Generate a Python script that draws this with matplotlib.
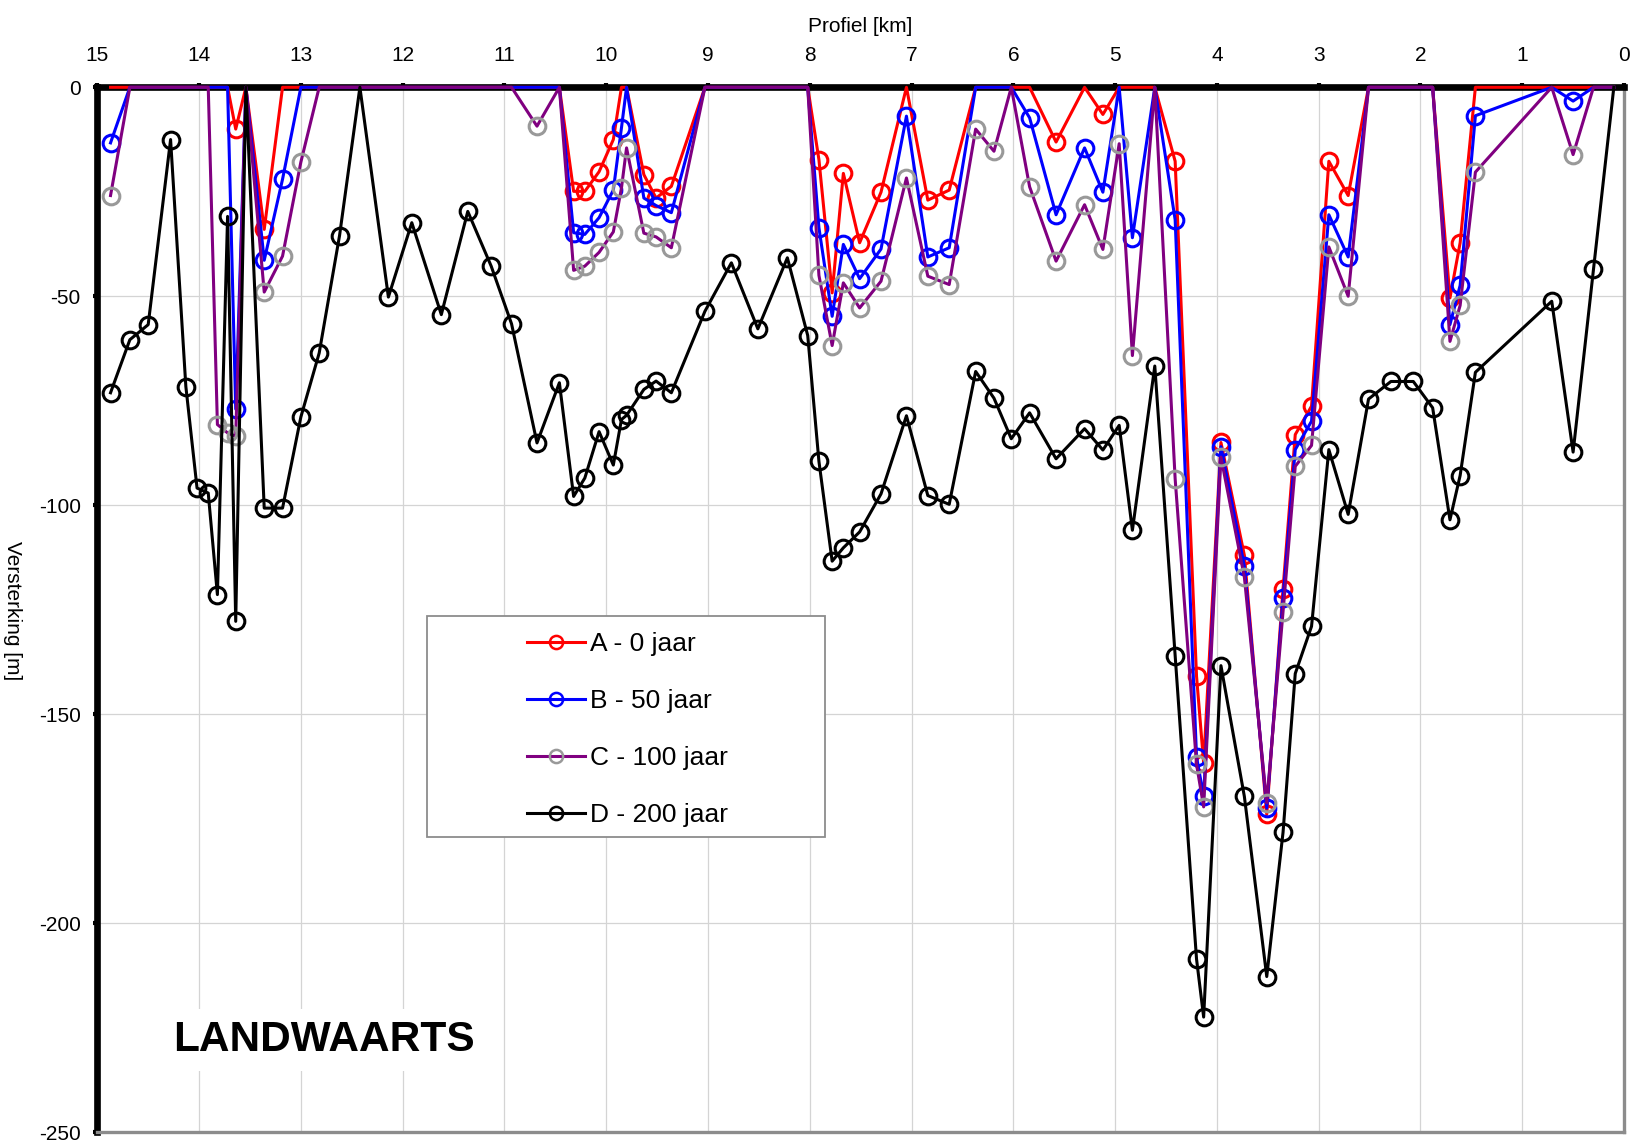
import matplotlib
matplotlib.use("Agg")
import matplotlib.pyplot as plt
from matplotlib.lines import Line2D
from matplotlib.patches import Rectangle

plt.rcParams["font.family"] = ["Liberation Sans", "DejaVu Sans"]
plt.rcParams["axes.unicode_minus"] = False

# Profile positions [km]
profiel_km = [14.87, 14.68, 14.50, 14.28, 14.13, 14.02, 13.91, 13.82, 13.72, 13.64,
              13.54, 13.36, 13.18, 13.00, 12.82, 12.62, 12.42, 12.14, 11.91, 11.62,
              11.36, 11.13, 10.93, 10.68, 10.46, 10.32, 10.21, 10.07, 9.93, 9.85,
              9.80, 9.63, 9.51, 9.36, 9.03, 8.77, 8.51, 8.22, 8.02, 7.91,
              7.78, 7.67, 7.51, 7.30, 7.05, 6.84, 6.63, 6.37, 6.19, 6.02,
              5.84, 5.58, 5.30, 5.12, 4.96, 4.83, 4.61, 4.41, 4.20, 4.13,
              3.96, 3.73, 3.51, 3.35, 3.23, 3.07, 2.90, 2.71, 2.51, 2.29,
              2.07, 1.88, 1.71, 1.61, 1.46, 0.71, 0.50, 0.30, 0.10]

# Versterking [m] per scenario
a_0_jaar = [0, 0, 0, 0, 0, 0, 0, 0, 0, -10.0,
            0, -34.0, 0, 0, 0, 0, 0, 0, 0, 0,
            0, 0, 0, 0, 0, -24.9, -24.9, -20.2, -12.5, 0,
            0, -20.9, -26.5, -23.7, 0, 0, 0, 0, 0, -17.3,
            -49.2, -20.6, -37.2, -25.1, 0, -27.0, -24.6, 0, 0, 0,
            0, -13.1, 0, -6.5, 0, 0, 0, -17.7, -140.9, -161.7,
            -85.0, -112.0, -174.0, -120.0, -83.1, -76.3, -17.7, -25.9, 0, 0,
            0, 0, -50.4, -37.2, 0, 0, 0, 0, 0]

b_50_jaar = [-13.3, 0, 0, 0, 0, 0, 0, 0, 0, -77.0,
             0, -41.4, -22.0, 0, 0, 0, 0, 0, 0, 0,
             0, 0, 0, 0, 0, -34.8, -35.2, -31.2, -24.6, -9.7,
             0, -26.5, -28.3, -30.0, 0, 0, 0, 0, 0, -33.6,
             -54.8, -37.6, -45.8, -38.7, -6.9, -40.6, -38.4, 0, 0, 0,
             -7.3, -30.5, -14.5, -25.1, 0, -36.0, 0, -31.7, -160.2, -169.7,
             -86.0, -114.6, -172.5, -122.2, -86.7, -79.9, -30.5, -40.6, 0, 0,
             0, 0, -56.8, -47.4, -6.8, 0, -3.3, 0, 0]

c_100_jaar = [-25.9, 0, 0, 0, 0, 0, 0, -80.7, -82.7, -83.5,
              0, -49.0, -40.4, -17.9, 0, 0, 0, 0, 0, 0,
              0, 0, 0, -9.3, 0, -43.8, -42.8, -39.5, -34.6, -24.1,
              -14.5, -34.9, -35.8, -38.4, 0, 0, 0, 0, 0, -45.0,
              -61.8, -46.8, -52.8, -46.4, -21.7, -45.2, -47.2, -10.0, -15.3, 0,
              -23.8, -41.6, -28.1, -38.8, -13.5, -64.2, 0, -93.7, -162.0, -172.2,
              -88.5, -117.2, -171.2, -125.5, -90.7, -85.7, -38.2, -50.0, 0, 0,
              0, 0, -60.8, -52.2, -20.3, 0, -16.1, 0, 0]

d_200_jaar = [-73.1, -60.4, -56.8, -12.5, -71.6, -95.9, -97.1, -121.4, -30.9, -127.8,
              0, -100.7, -100.7, -78.9, -63.6, -35.5, 0, -50.2, -32.4, -54.4,
              -29.7, -42.8, -56.6, -85.1, -70.7, -97.9, -93.5, -82.4, -90.4, -79.5,
              -78.5, -72.3, -70.3, -73.1, -53.6, -42.0, -57.8, -40.8, -59.4, -89.5,
              -113.4, -110.2, -106.4, -97.3, -78.6, -97.7, -99.8, -68.0, -74.4, -84.1,
              -77.9, -88.9, -81.7, -86.8, -80.9, -106.0, -66.7, -136.0, -208.6, -222.5,
              -138.4, -169.7, -212.8, -178.3, -140.3, -129.0, -86.7, -102.2, -74.6, -70.4,
              -70.4, -76.7, -103.5, -92.9, -68.2, -51.2, -87.3, -43.6, 0]

series = [
    ("A - 0 jaar", a_0_jaar, "#ff0000", "#ff0000"),
    ("B - 50 jaar", b_50_jaar, "#0000ff", "#0000ff"),
    ("C - 100 jaar", c_100_jaar, "#800080", "#999999"),
    ("D - 200 jaar", d_200_jaar, "#000000", "#000000"),
]

W, H = 1638, 1147
fig = plt.figure(figsize=(W / 100, H / 100), dpi=100)
x0, x1, y0, y1 = 97.3, 1624.0, 87.3, 1132.0
ax = fig.add_axes([x0 / W, 1 - y1 / H, (x1 - x0) / W, (y1 - y0) / H])

for i, (label, vals, lc, mc) in enumerate(series):
    marked = [k for k, v in enumerate(vals) if v != 0]
    ax.plot(profiel_km, vals, color=lc, lw=2.2, marker="o", markevery=marked,
            markersize=12, markerfacecolor="none", markeredgecolor=mc,
            markeredgewidth=2.2, clip_on=False, zorder=3 + i)

ax.set_xlim(15, 0)
ax.set_ylim(-250, 0)
ax.set_xticks(range(15, -1, -1))
ax.set_yticks(range(-250, 1, 50))
ax.grid(True, color="#d4d4d4", lw=0.9)
ax.set_axisbelow(True)

ax.xaxis.tick_top()
ax.xaxis.set_label_position("top")
ax.tick_params(axis="x", direction="out", length=3, width=3, pad=13, labelsize=15,
               top=True, bottom=False)
ax.tick_params(axis="y", direction="out", length=3, width=3, pad=9, labelsize=15)
ax.set_xlabel("Profiel [km]", fontsize=15, labelpad=10)

for side in ("top", "left"):
    ax.spines[side].set_linewidth(4.8)
    ax.spines[side].set_color("black")
for side in ("right", "bottom"):
    ax.spines[side].set_linewidth(2.4)
    ax.spines[side].set_color("#8c8c8c")

fig.text(12 / W, 1 - 611 / H, "Versterking [m]", rotation=-90, fontsize=15,
         ha="center", va="center")

# Legend box and entries
ax.add_patch(Rectangle((427 / W, 1 - 837 / H), (825 - 427) / W, (837 - 616) / H,
                       transform=fig.transFigure, facecolor="white",
                       edgecolor="#8c8c8c", lw=1.3, zorder=10, clip_on=False))
handles = [Line2D([], [], color=lc, lw=2.2, marker="o", markersize=9.5,
                  markerfacecolor="none", markeredgecolor=mc, markeredgewidth=1.8)
           for _, _, lc, mc in series]
leg = ax.legend(handles, [s[0] for s in series], loc="upper left",
                bbox_to_anchor=(527 / W, 1 - 632 / H), bbox_transform=fig.transFigure,
                frameon=False, fontsize=19, borderpad=0, borderaxespad=0,
                handlelength=2.2, handletextpad=0.2, labelspacing=1.25)
leg.set_zorder(11)

fig.text(173 / W, 1 - 1040 / H, "LANDWAARTS", fontsize=30.5, fontweight="bold",
         ha="left", va="center",
         bbox=dict(facecolor="white", edgecolor="none", pad=8))

fig.savefig("out.png", dpi=100)
